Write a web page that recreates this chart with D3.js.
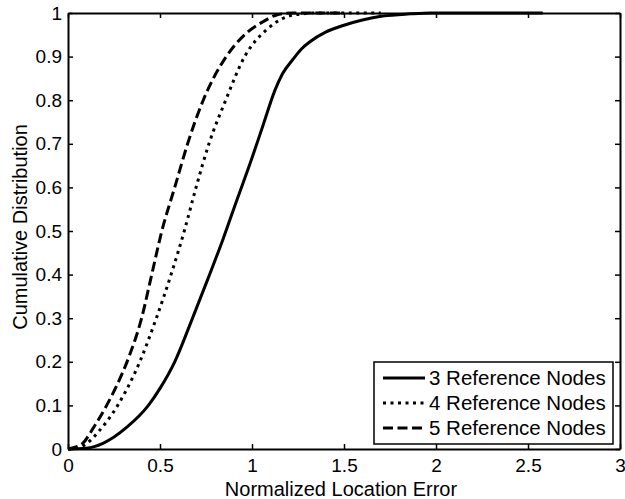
<!DOCTYPE html>
<html>
<head>
<meta charset="utf-8">
<script src="https://cdn.jsdelivr.net/npm/d3@7"></script>
<style>
  body { margin: 0; background: #fff; }
  svg { display: block; font-family: "Liberation Sans", Arial, sans-serif; }
</style>
</head>
<body>
<div id="chart"></div>
<script>
// data
var nodes3_x = [0, 0.1, 0.19, 0.32, 0.437, 0.5, 0.58, 0.672, 0.763, 0.844, 0.917, 0.998, 1.062, 1.125, 1.165, 1.225, 1.27, 1.315, 1.4, 1.5, 1.6, 1.71, 1.86, 1.97, 2.58]
var nodes3_y = [0, 0.002, 0.013, 0.05, 0.1, 0.139, 0.2, 0.295, 0.393, 0.483, 0.57, 0.665, 0.745, 0.823, 0.86, 0.895, 0.918, 0.934, 0.956, 0.972, 0.984, 0.993, 0.998, 1, 1]
var nodes4_x = [0, 0.05, 0.1, 0.16, 0.27, 0.39, 0.48, 0.56, 0.632, 0.696, 0.766, 0.857, 0.96, 1.08, 1.17, 1.27, 1.35, 1.7]
var nodes4_y = [0, 0.002, 0.012, 0.037, 0.1, 0.2, 0.3, 0.4, 0.5, 0.6, 0.7, 0.8, 0.9, 0.962, 0.988, 0.998, 1, 1]
var nodes5_x = [0, 0.03, 0.08, 0.14, 0.21, 0.27, 0.33, 0.4, 0.455, 0.51, 0.58, 0.65, 0.735, 0.86, 0.97, 1.06, 1.13, 1.22, 1.5]
var nodes5_y = [0, 0.003, 0.013, 0.05, 0.1, 0.15, 0.21, 0.3, 0.4, 0.5, 0.6, 0.7, 0.8, 0.9, 0.954, 0.98, 0.995, 1, 1]
var series_names = ["3 Reference Nodes", "4 Reference Nodes", "5 Reference Nodes"]
var x_ticks = [0, 0.5, 1, 1.5, 2, 2.5, 3]
var y_ticks = [0, 0.1, 0.2, 0.3, 0.4, 0.5, 0.6, 0.7, 0.8, 0.9, 1]

var width = 625, height = 499
var margin = {left: 68, right: 5, top: 13, bottom: 50}

var svg = d3.select("#chart").append("svg")
            .attr("width", width)
            .attr("height", height)

var x = d3.scaleLinear().domain([0, 3]).range([margin.left, width - margin.right])
var y = d3.scaleLinear().domain([0, 1]).range([height - margin.bottom, margin.top])

var series = [
    {name: series_names[0], xs: nodes3_x, ys: nodes3_y, dash: null},
    {name: series_names[1], xs: nodes4_x, ys: nodes4_y, dash: "3,4.5"},
    {name: series_names[2], xs: nodes5_x, ys: nodes5_y, dash: "10,4.5"}
]

var line = d3.line()
             .x(function(d) { return x(d[0]) })
             .y(function(d) { return y(d[1]) })
             .curve(d3.curveMonotoneX)

// curves
svg.append("g").selectAll("path")
   .data(series)
   .enter().append("path")
   .attr("d", function(s) { return line(s.xs.map(function(v, i) { return [v, s.ys[i]] })) })
   .attr("fill", "none")
   .attr("stroke", "#000")
   .attr("stroke-width", 3)
   .attr("stroke-dasharray", function(s) { return s.dash })

// axes, ticks inward on all sides
var fmt = function(d) { return d3.format("~g")(d) }
svg.append("g").attr("transform", "translate(0," + y(0) + ")")
   .call(d3.axisBottom(x).tickValues(x_ticks).tickFormat(fmt).tickSizeInner(-5).tickSizeOuter(0).tickPadding(10))
svg.append("g").attr("transform", "translate(" + x(0) + ",0)")
   .call(d3.axisLeft(y).tickValues(y_ticks).tickFormat(fmt).tickSizeInner(-5).tickSizeOuter(0).tickPadding(6))
svg.append("g").attr("transform", "translate(0," + y(1) + ")")
   .call(d3.axisTop(x).tickValues(x_ticks).tickFormat("").tickSizeInner(-5).tickSizeOuter(0))
svg.append("g").attr("transform", "translate(" + x(3) + ",0)")
   .call(d3.axisRight(y).tickValues(y_ticks).tickFormat("").tickSizeInner(-5).tickSizeOuter(0))

svg.selectAll(".domain").attr("stroke", "#000").attr("stroke-width", 2)
svg.selectAll(".tick line").attr("stroke", "#000").attr("stroke-width", 1.5)
svg.selectAll(".tick text").attr("font-size", 19).attr("fill", "#000")
   .attr("font-family", "Liberation Sans, Arial, sans-serif")

// axis titles
svg.append("text")
   .attr("x", 341).attr("y", 496)
   .attr("text-anchor", "middle")
   .attr("font-size", 20)
   .text("Normalized Location Error")
svg.append("text")
   .attr("transform", "translate(27,227)rotate(-90)")
   .attr("text-anchor", "middle")
   .attr("font-size", 20)
   .text("Cumulative Distribution")

// legend
var lg = svg.append("g")
lg.append("rect")
  .attr("x", 374).attr("y", 362)
  .attr("width", 239).attr("height", 82)
  .attr("fill", "#fff")
  .attr("stroke", "#000")
  .attr("stroke-width", 1.5)
var rows = lg.selectAll("g.row")
             .data(series)
             .enter().append("g")
             .attr("class", "row")
             .attr("transform", function(d, i) { return "translate(0," + (378 + i * 25) + ")" })
rows.append("line")
    .attr("x1", 383).attr("x2", 425)
    .attr("stroke", "#000")
    .attr("stroke-width", 3)
    .attr("stroke-dasharray", function(s) { return s.dash })
rows.append("text")
    .attr("x", 429).attr("y", 7)
    .attr("font-size", 20.5)
    .text(function(s) { return s.name })
</script>
</body>
</html>
